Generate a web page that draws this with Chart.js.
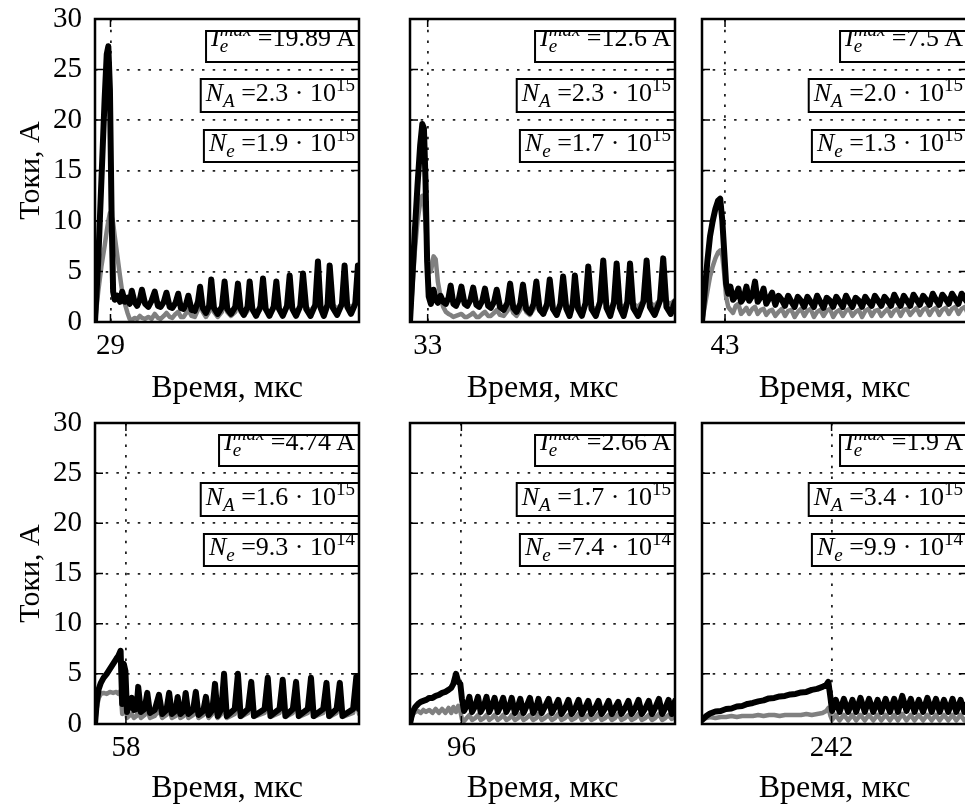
<!DOCTYPE html>
<html>
<head>
<meta charset="utf-8">
<script src="https://cdn.jsdelivr.net/npm/chart.js@4.4.1/dist/chart.umd.min.js"></script>
<style>
html, body { margin: 0; padding: 0; background: #fff; width: 965px; height: 808px; overflow: hidden; }
canvas { position: absolute; }
</style>
</head>
<body>
<canvas id="p0"></canvas>
<canvas id="p1"></canvas>
<canvas id="p2"></canvas>
<canvas id="p3"></canvas>
<canvas id="p4"></canvas>
<canvas id="p5"></canvas>
<script>
// axis values
const yTicks = [0, 5, 10, 15, 20, 25, 30];
const timeMax = 495;
const peakTimes = [29, 33, 43, 58, 96, 242];

// annotation values
const ieMax = ['19.89', '12.6', '7.5', '4.74', '2.66', '1.9'];
const nAMant = ['2.3', '2.3', '2.0', '1.6', '1.7', '3.4'];
const nAExp = ['15', '15', '15', '15', '15', '15'];
const neMant = ['1.9', '1.7', '1.3', '9.3', '7.4', '9.9'];
const neExp = ['15', '15', '15', '14', '14', '14'];

// panel 1 (29 us)
const t1 = [0, 6, 12, 18, 22, 25, 28, 31, 34, 37, 42, 47, 51, 56, 61, 65, 69, 74, 79, 84, 88, 94, 100, 106, 112, 118, 123, 129, 134, 140, 145, 151, 156, 161, 166, 171, 175, 181, 187, 193, 197, 202, 208, 214, 218, 223, 230, 238, 243, 248, 255, 263, 268, 273, 279, 286, 290, 295, 302, 310, 315, 320, 327, 335, 340, 345, 352, 360, 365, 370, 377, 385, 390, 396, 404, 413, 418, 423, 429, 436, 440, 446, 454, 463, 468, 473, 480, 488, 493, 495];
const black1 = [0, 6, 14, 22, 26.5, 27.3, 23, 11, 3.0, 2.2, 2.6, 2.0, 3.0, 2.0, 2.4, 1.8, 3.1, 2.0, 1.6, 2.2, 3.2, 1.8, 1.5, 2.1, 3.0, 1.6, 1.5, 2.0, 2.9, 1.5, 1.4, 1.9, 2.8, 1.4, 1.3, 1.8, 2.6, 1.2, 1.1, 2.0, 3.5, 1.4, 0.9, 1.6, 4.2, 1.4, 0.8, 1.5, 4.0, 1.3, 0.8, 1.5, 3.8, 1.3, 0.7, 1.5, 4.0, 1.3, 0.6, 1.5, 4.3, 1.3, 0.6, 1.5, 4.0, 1.3, 0.6, 1.6, 4.6, 1.3, 0.6, 1.6, 4.8, 1.3, 0.6, 1.7, 6.0, 1.4, 0.6, 1.7, 5.6, 1.4, 0.7, 1.8, 5.6, 1.5, 0.8, 1.8, 5.6, 3.5];
const gray1 = [0, 3, 5.5, 7.5, 9, 10, 10.8, 10.5, 9.8, 8.5, 6.5, 4.5, 3.0, 1.8, 0.9, 0.3, 0.2, 0.4, 0.3, 0.6, 0.4, 0.3, 0.5, 0.3, 0.8, 0.4, 0.3, 0.6, 0.9, 0.5, 0.4, 0.8, 1.0, 0.5, 0.5, 0.9, 1.2, 0.6, 0.5, 1.2, 2.4, 1.0, 0.5, 1.0, 2.2, 1.0, 0.5, 1.0, 2.0, 1.0, 0.6, 1.0, 2.2, 1.0, 0.6, 1.1, 2.3, 1.1, 0.7, 1.2, 2.4, 1.2, 0.8, 1.3, 2.5, 1.3, 0.9, 1.4, 2.6, 1.4, 1.0, 1.5, 2.7, 1.5, 1.1, 1.6, 3.0, 1.6, 1.2, 1.7, 3.0, 1.7, 1.3, 1.8, 3.1, 1.8, 1.4, 1.9, 3.0, 2.5];

// panel 2 (33 us)
const t2 = [0, 4, 9, 14, 19, 23, 26, 29, 32, 35, 39, 44, 48, 52, 57, 62, 67, 72, 76, 81, 86, 91, 96, 102, 107, 113, 118, 124, 129, 135, 140, 146, 151, 157, 162, 168, 175, 182, 187, 193, 199, 206, 211, 217, 224, 231, 236, 242, 249, 256, 261, 267, 274, 281, 286, 292, 298, 304, 308, 314, 321, 328, 333, 339, 347, 355, 361, 367, 374, 381, 386, 392, 399, 406, 411, 417, 426, 436, 442, 448, 457, 467, 473, 479, 487, 495];
const black2 = [0, 4, 9, 13.5, 17.5, 19.6, 19.2, 14, 6, 2.5, 1.8, 3.2, 2.2, 1.9, 2.6, 2.0, 1.8, 2.4, 3.6, 1.8, 1.6, 2.2, 3.5, 1.8, 1.6, 2.2, 3.4, 1.7, 1.5, 2.1, 3.3, 1.6, 1.4, 2.0, 3.2, 1.5, 1.2, 1.9, 3.8, 1.4, 1.0, 1.8, 3.7, 1.3, 0.9, 1.8, 4.0, 1.3, 0.8, 1.8, 4.2, 1.3, 0.7, 1.8, 4.5, 1.3, 0.6, 1.8, 4.6, 1.3, 0.6, 1.9, 5.5, 1.3, 0.6, 2.0, 6.1, 1.4, 0.6, 2.0, 5.8, 1.4, 0.6, 2.0, 5.8, 1.4, 0.6, 2.0, 6.1, 1.5, 0.7, 2.1, 6.3, 1.5, 0.8, 2.0];
const gray2 = [0, 3, 7, 10, 11.8, 12.5, 12.0, 10, 7, 5.5, 5.0, 6.5, 6.2, 4.0, 2.5, 1.5, 1.0, 0.8, 0.7, 0.5, 0.6, 0.7, 0.8, 0.5, 0.5, 0.7, 0.9, 0.5, 0.5, 0.8, 1.0, 0.6, 0.6, 0.9, 1.2, 0.7, 0.6, 1.1, 1.8, 0.9, 0.6, 1.2, 2.0, 1.0, 0.7, 1.3, 2.3, 1.1, 0.8, 1.4, 2.5, 1.2, 0.9, 1.5, 2.6, 1.3, 1.0, 1.6, 2.7, 1.4, 1.1, 1.7, 2.9, 1.5, 1.2, 1.8, 3.0, 1.6, 1.3, 1.9, 3.0, 1.7, 1.4, 2.0, 3.1, 1.8, 1.5, 2.1, 3.2, 1.9, 1.6, 2.2, 3.2, 2.0, 1.8, 2.2];

// panel 3 (43 us)
const t3 = [0, 5, 10, 15, 20, 25, 30, 34, 38, 42, 45, 49, 53, 58, 63, 68, 73, 78, 83, 88, 94, 99, 104, 110, 115, 120, 126, 131, 137, 143, 149, 155, 161, 167, 173, 179, 185, 191, 197, 203, 209, 215, 221, 227, 233, 239, 245, 251, 257, 263, 269, 275, 281, 287, 293, 299, 305, 311, 317, 323, 329, 335, 341, 347, 353, 359, 365, 371, 377, 383, 389, 395, 401, 407, 413, 419, 425, 431, 437, 443, 449, 455, 461, 467, 473, 479, 485, 491, 495];
const black3 = [0, 3, 6, 8.5, 10, 11.2, 12.0, 12.2, 10, 6.5, 3.8, 2.8, 3.5, 2.2, 2.6, 3.3, 2.0, 2.4, 3.5, 2.1, 2.6, 4.0, 2.0, 2.5, 3.3, 1.8, 2.4, 2.9, 1.7, 2.6, 2.2, 1.6, 2.6, 2.0, 1.5, 2.5, 2.1, 1.5, 2.5, 2.0, 1.5, 2.6, 2.0, 1.4, 2.4, 2.1, 1.5, 2.5, 2.0, 1.5, 2.6, 2.0, 1.5, 2.4, 2.1, 1.5, 2.5, 2.0, 1.6, 2.6, 2.1, 1.6, 2.5, 2.1, 1.6, 2.7, 2.1, 1.6, 2.6, 2.1, 1.6, 2.7, 2.2, 1.7, 2.6, 2.2, 1.7, 2.8, 2.2, 1.7, 2.7, 2.3, 1.8, 2.8, 2.3, 1.8, 2.8, 2.3, 2.0];
const gray3 = [0, 1.5, 3, 4.5, 5.5, 6.3, 6.9, 7.1, 6.5, 4.5, 2.5, 1.5, 1.2, 0.9, 1.6, 1.8, 0.8, 1.1, 1.4, 0.8, 1.3, 1.5, 0.8, 1.2, 1.3, 0.7, 1.1, 1.2, 0.6, 1.0, 1.3, 0.6, 1.1, 1.2, 0.5, 1.0, 1.3, 0.6, 1.1, 1.3, 0.5, 1.0, 1.2, 0.6, 1.1, 1.3, 0.5, 1.0, 1.2, 0.6, 1.1, 1.3, 0.6, 1.0, 1.2, 0.5, 1.1, 1.3, 0.6, 1.1, 1.2, 0.6, 1.0, 1.3, 0.6, 1.1, 1.3, 0.6, 1.2, 1.3, 0.7, 1.1, 1.4, 0.7, 1.2, 1.4, 0.7, 1.2, 1.4, 0.7, 1.2, 1.4, 0.8, 1.3, 1.5, 0.8, 1.3, 1.5, 1.0];

// panel 4 (58 us)
const t4 = [0, 3, 7, 11, 16, 22, 28, 34, 40, 44, 48, 51, 54, 57, 60, 64, 69, 73, 78, 81, 86, 93, 98, 103, 112, 120, 126, 134, 139, 144, 151, 155, 160, 166, 170, 175, 184, 189, 194, 203, 208, 213, 220, 225, 230, 237, 242, 247, 262, 268, 273, 287, 293, 298, 318, 324, 329, 346, 352, 357, 371, 377, 382, 399, 405, 410, 428, 434, 439, 453, 459, 464, 484, 490, 495];
const black4 = [0, 2.0, 3.5, 4.1, 4.6, 5.0, 5.5, 6.0, 6.5, 6.8, 7.3, 2.0, 6.0, 5.3, 1.2, 1.8, 2.6, 1.4, 1.5, 3.7, 1.2, 1.5, 3.1, 1.1, 1.4, 2.9, 1.0, 1.4, 3.1, 1.0, 1.3, 2.7, 1.0, 1.3, 3.1, 1.0, 1.4, 3.2, 0.9, 1.3, 2.7, 0.9, 1.4, 4.0, 0.8, 1.5, 5.0, 0.8, 1.5, 5.0, 0.8, 1.5, 4.2, 0.8, 1.5, 4.6, 0.8, 1.5, 4.4, 0.8, 1.5, 4.2, 0.8, 1.5, 4.6, 0.8, 1.5, 4.1, 0.8, 1.5, 4.1, 0.8, 1.5, 4.7, 1.5];
const gray4 = [0, 1.5, 2.6, 3.0, 3.1, 3.0, 3.2, 3.1, 3.2, 3.0, 3.3, 1.0, 3.0, 2.5, 0.6, 0.8, 1.0, 0.6, 0.8, 1.5, 0.6, 0.9, 1.5, 0.6, 0.8, 1.4, 0.6, 0.9, 1.5, 0.6, 0.8, 1.4, 0.6, 0.8, 1.5, 0.6, 0.9, 1.6, 0.6, 0.9, 1.5, 0.6, 1.0, 2.0, 0.6, 1.0, 2.4, 0.6, 1.0, 2.5, 0.7, 1.1, 2.8, 0.7, 1.1, 2.4, 0.7, 1.1, 2.4, 0.7, 1.1, 2.3, 0.7, 1.1, 2.5, 0.7, 1.1, 2.4, 0.7, 1.1, 2.4, 0.7, 1.1, 2.5, 1.0];

// panel 5 (96 us)
const t5 = [0, 3, 6, 10, 15, 20, 25, 30, 36, 42, 48, 54, 60, 66, 72, 77, 81, 86, 90, 94, 97, 101, 106, 111, 116, 122, 127, 132, 138, 143, 148, 153, 158, 164, 169, 174, 180, 186, 190, 196, 202, 206, 212, 218, 224, 230, 236, 240, 246, 252, 259, 265, 271, 277, 283, 290, 296, 302, 309, 315, 321, 327, 333, 339, 346, 352, 358, 365, 371, 377, 383, 389, 395, 402, 408, 414, 421, 427, 433, 440, 446, 452, 458, 465, 471, 477, 483, 489, 495];
const black5 = [0, 0.8, 1.3, 1.7, 2.0, 2.2, 2.3, 2.4, 2.6, 2.6, 2.8, 2.9, 3.1, 3.2, 3.4, 3.6, 4.0, 5.0, 4.2, 4.0, 2.5, 1.3, 1.8, 2.7, 1.2, 1.8, 2.7, 1.2, 1.8, 2.7, 1.2, 1.8, 2.6, 1.2, 1.8, 2.6, 1.2, 1.8, 2.6, 1.1, 1.8, 2.5, 1.1, 1.8, 2.6, 1.1, 1.7, 2.5, 1.1, 1.7, 2.5, 1.1, 1.7, 2.4, 1.0, 1.6, 2.4, 1.0, 1.6, 2.4, 1.0, 1.6, 2.3, 1.0, 1.6, 2.3, 1.0, 1.6, 2.3, 1.0, 1.6, 2.2, 1.0, 1.6, 2.3, 1.0, 1.6, 2.4, 1.0, 1.6, 2.3, 1.0, 1.6, 2.5, 1.0, 1.6, 2.4, 1.0, 2.3];
const gray5 = [0, 0.6, 1.0, 1.2, 1.3, 1.1, 1.4, 1.2, 1.4, 1.1, 1.5, 1.1, 1.5, 1.1, 1.6, 1.1, 1.7, 1.2, 1.8, 1.3, 0.5, 0.3, 0.6, 0.9, 0.4, 0.6, 0.9, 0.4, 0.6, 0.9, 0.4, 0.6, 0.9, 0.4, 0.6, 0.9, 0.4, 0.6, 0.9, 0.4, 0.6, 1.0, 0.4, 0.6, 0.9, 0.4, 0.6, 1.0, 0.4, 0.6, 0.9, 0.4, 0.6, 1.0, 0.4, 0.6, 0.9, 0.4, 0.6, 1.0, 0.4, 0.6, 0.9, 0.4, 0.6, 1.0, 0.4, 0.6, 0.9, 0.4, 0.6, 1.0, 0.4, 0.6, 0.9, 0.4, 0.6, 1.0, 0.4, 0.6, 0.9, 0.4, 0.6, 1.0, 0.4, 0.6, 0.9, 0.5, 1.0];

// panel 6 (242 us)
const t6 = [0, 8, 15, 25, 35, 45, 55, 65, 75, 85, 95, 105, 115, 125, 135, 145, 155, 165, 175, 185, 195, 205, 215, 225, 232, 236, 240, 243, 250, 257, 265, 273, 281, 288, 296, 304, 312, 320, 328, 335, 343, 351, 359, 366, 374, 382, 390, 397, 405, 413, 421, 429, 437, 444, 452, 460, 468, 475, 483, 490, 495];
const black6 = [0.4, 0.8, 1.05, 1.25, 1.3, 1.5, 1.55, 1.75, 1.8, 2.0, 2.1, 2.25, 2.35, 2.55, 2.6, 2.75, 2.8, 2.95, 3.0, 3.15, 3.2, 3.4, 3.5, 3.7, 3.9, 4.2, 2.6, 1.3, 2.4, 1.2, 2.5, 1.2, 2.4, 1.2, 2.6, 1.2, 2.5, 1.2, 2.4, 1.2, 2.5, 1.2, 2.5, 1.2, 2.8, 1.3, 2.5, 1.2, 2.4, 1.2, 2.6, 1.2, 2.5, 1.2, 2.4, 1.2, 2.5, 1.2, 2.4, 1.2, 2.0];
const gray6 = [0.5, 0.6, 0.7, 0.6, 0.7, 0.7, 0.8, 0.7, 0.8, 0.8, 0.8, 0.9, 0.8, 0.9, 0.9, 0.8, 0.9, 0.9, 0.9, 0.9, 1.0, 0.9, 1.0, 1.1, 1.3, 1.6, 0.8, 0.4, 0.9, 0.35, 0.9, 0.35, 0.9, 0.35, 0.9, 0.35, 0.9, 0.35, 0.9, 0.35, 0.9, 0.35, 0.9, 0.35, 1.0, 0.35, 0.9, 0.35, 0.9, 0.35, 0.9, 0.35, 0.9, 0.35, 0.9, 0.35, 0.9, 0.35, 0.9, 0.35, 0.6];

const times = [t1, t2, t3, t4, t5, t6];
const blacks = [black1, black2, black3, black4, black5, black6];
const grays = [gray1, gray2, gray3, gray4, gray5, gray6];

// page layout
const colLeft = [0, 372, 692];
const colWidth = [372, 320, 290];
const areaLeft = [95, 410, 702];
const areaRight = [359, 675, 967];
const rowTop = [0, 400];
const rowHeight = [408, 408];
const areaTop = [19, 423];
const areaBottom = [322, 724];

const serif = '"Liberation Serif", "Times New Roman", serif';

function fontOf(f) {
  if (f === 'i') return 'italic 26px ' + serif;
  if (f === 'si') return 'italic 19px ' + serif;
  if (f === 'sr') return '19px ' + serif;
  return '26px ' + serif;
}

function richWidth(ctx, parts) {
  let w = 0, held = 0;
  parts.forEach(p => {
    ctx.font = fontOf(p.f);
    const pw = ctx.measureText(p.s).width;
    if (p.hold) { held = pw; return; }
    w += Math.max(pw, held);
    held = 0;
  });
  return w;
}

function drawRich(ctx, parts, x, base) {
  let held = 0;
  parts.forEach(p => {
    ctx.font = fontOf(p.f);
    ctx.fillText(p.s, x, base + (p.dy || 0));
    const pw = ctx.measureText(p.s).width;
    if (p.hold) { held = pw; return; }
    x += Math.max(pw, held);
    held = 0;
  });
}

const boxPlugin = {
  id: 'boxes',
  afterDatasetsDraw(chart) {
    const i = chart.options.plugins.boxes.panel;
    const {ctx, chartArea} = chart;
    const lines = [
      {top: 12, h: 31, base: 15, parts: [
        {s: 'I', f: 'i'}, {s: 'max', f: 'si', dy: -10, hold: true}, {s: 'e', f: 'si', dy: 6},
        {s: ' =' + ieMax[i] + '\u2009A', f: 'r'}]},
      {top: 60, h: 33, base: 22, parts: [
        {s: 'N', f: 'i'}, {s: 'A', f: 'si', dy: 6},
        {s: ' =' + nAMant[i] + ' \u00b7 10', f: 'r'}, {s: nAExp[i], f: 'sr', dy: -10}]},
      {top: 111, h: 32, base: 21, parts: [
        {s: 'N', f: 'i'}, {s: 'e', f: 'si', dy: 6},
        {s: ' =' + neMant[i] + ' \u00b7 10', f: 'r'}, {s: neExp[i], f: 'sr', dy: -10}]}
    ];
    ctx.save();
    ctx.textBaseline = 'alphabetic';
    ctx.textAlign = 'left';
    lines.forEach(l => {
      const w = richWidth(ctx, l.parts);
      const tx = chartArea.right - 4 - w;
      const bx = tx - 5;
      const by = chartArea.top + l.top;
      ctx.save();
      ctx.beginPath();
      ctx.rect(bx, by, chartArea.right - bx, l.h);
      ctx.fillStyle = '#fff';
      ctx.fill();
      ctx.clip();
      ctx.fillStyle = '#000';
      drawRich(ctx, l.parts, tx, by + l.base);
      ctx.restore();
      ctx.lineWidth = 2;
      ctx.strokeStyle = '#000';
      ctx.strokeRect(bx, by, chartArea.right - bx, l.h);
    });
    ctx.restore();
  },
  afterDraw(chart) {
    const i = chart.options.plugins.boxes.panel;
    const {ctx, chartArea, scales} = chart;
    ctx.save();
    ctx.strokeStyle = '#000';
    ctx.lineWidth = 1.5;
    ctx.beginPath();
    yTicks.forEach(v => {
      const y = scales.y.getPixelForValue(v);
      ctx.moveTo(chartArea.left, y); ctx.lineTo(chartArea.left + 8, y);
      ctx.moveTo(chartArea.right, y); ctx.lineTo(chartArea.right - 8, y);
    });
    const x = scales.x.getPixelForValue(peakTimes[i]);
    ctx.moveTo(x, chartArea.bottom); ctx.lineTo(x, chartArea.bottom - 8);
    ctx.moveTo(x, chartArea.top); ctx.lineTo(x, chartArea.top + 8);
    ctx.stroke();
    ctx.lineWidth = 2.5;
    ctx.strokeRect(chartArea.left, chartArea.top, chartArea.right - chartArea.left, chartArea.bottom - chartArea.top);
    ctx.restore();
  }
};

for (let i = 0; i < 6; i++) {
  const col = i % 3, row = Math.floor(i / 3);
  const cv = document.getElementById('p' + i);
  cv.width = colWidth[col];
  cv.height = rowHeight[row];
  cv.style.left = colLeft[col] + 'px';
  cv.style.top = rowTop[row] + 'px';
  cv.style.width = colWidth[col] + 'px';
  cv.style.height = rowHeight[row] + 'px';

  new Chart(cv, {
    type: 'line',
    data: {
      datasets: [{
        data: times[i].map((t, k) => ({x: t, y: blacks[i][k]})),
        borderColor: '#000',
        borderWidth: 6,
        pointRadius: 0,
        borderJoinStyle: 'round',
        borderCapStyle: 'round',
        clip: 0
      }, {
        data: times[i].map((t, k) => ({x: t, y: grays[i][k]})),
        borderColor: '#808080',
        borderWidth: 4.5,
        pointRadius: 0,
        borderJoinStyle: 'round',
        borderCapStyle: 'round',
        clip: 0
      }]
    },
    options: {
      responsive: false,
      animation: false,
      devicePixelRatio: 1,
      layout: {
        padding: {
          left: 0,
          top: areaTop[row] - rowTop[row],
          right: colLeft[col] + colWidth[col] - areaRight[col],
          bottom: 0
        }
      },
      plugins: {
        legend: {display: false},
        tooltip: {enabled: false},
        boxes: {panel: i}
      },
      scales: {
        x: {
          type: 'linear',
          min: 0,
          max: timeMax,
          afterBuildTicks: s => { s.ticks = [{value: peakTimes[i]}]; },
          afterFit: s => {
            s.height = rowTop[row] + rowHeight[row] - areaBottom[row];
            s.paddingLeft = 0; s.paddingRight = 0;
          },
          ticks: {
            font: {family: serif, size: 29},
            color: '#000',
            padding: 7,
            maxRotation: 0,
            autoSkip: false
          },
          grid: {color: '#222', lineWidth: 1.8, drawTicks: false},
          border: {display: false, dash: [2.5, 8.2]},
          title: {
            display: true,
            text: 'Время, мкс',
            font: {family: serif, size: 32},
            color: '#000',
            padding: {top: 0, bottom: 0}
          }
        },
        y: {
          type: 'linear',
          min: 0,
          max: 30,
          afterBuildTicks: s => { s.ticks = yTicks.map(v => ({value: v})); },
          afterFit: s => {
            s.width = areaLeft[col] - colLeft[col];
            s.paddingTop = 0; s.paddingBottom = 0;
          },
          ticks: {
            display: col === 0,
            font: {family: serif, size: 29},
            color: '#000',
            padding: 13
          },
          grid: {color: '#222', lineWidth: 1.8, drawTicks: false},
          border: {display: false, dash: [2.5, 8.2]},
          title: {
            display: col === 0,
            text: 'Токи, А',
            font: {family: serif, size: 30},
            color: '#000',
            padding: {top: 13, bottom: 0}
          }
        }
      }
    },
    plugins: [boxPlugin]
  });
}
</script>
</body>
</html>
